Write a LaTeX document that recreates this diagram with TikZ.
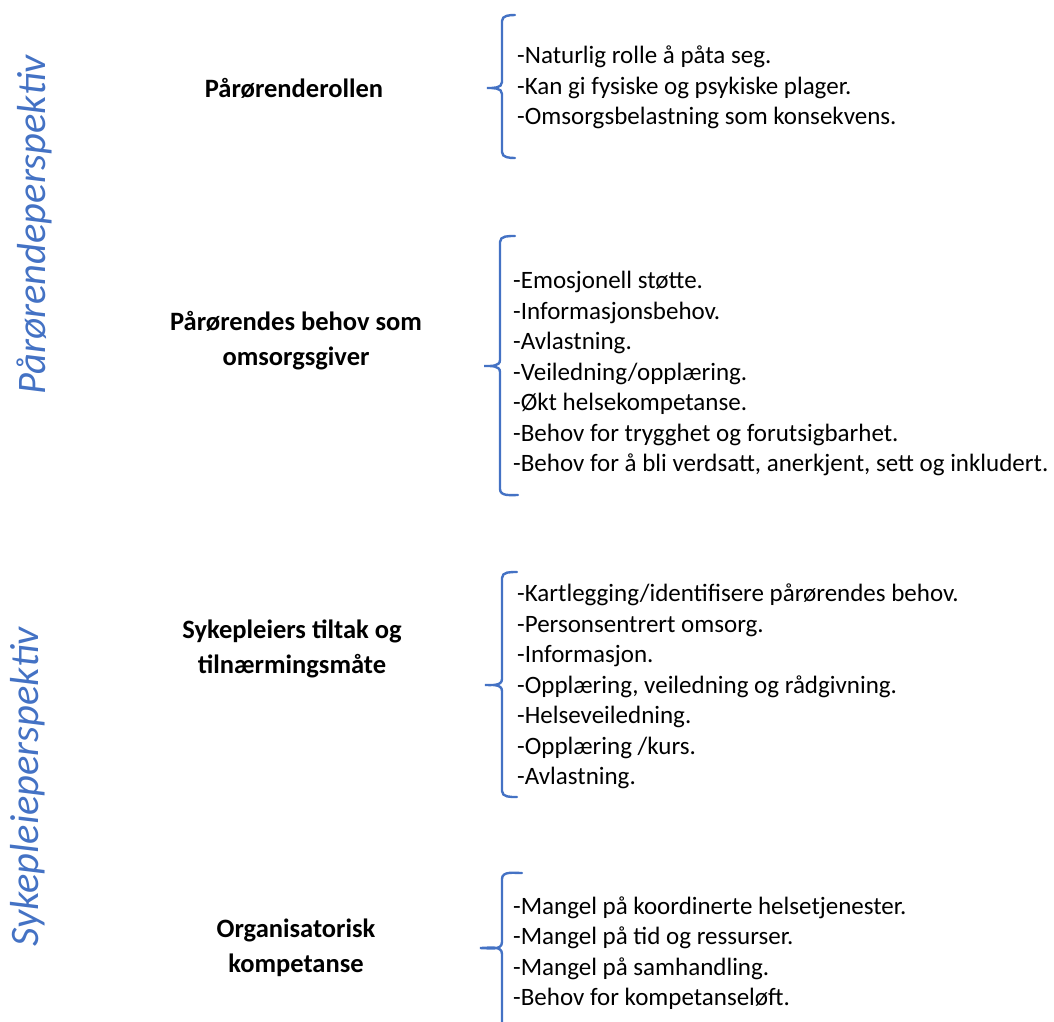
\documentclass[tikz,border=0pt]{standalone}
\usepackage{fontspec}
\setmainfont{Carlito}
\definecolor{BraceClr}{RGB}{68,114,196}

\begin{document}
\begin{tikzpicture}[x=1pt,y=-1pt,
  head/.style={font=\bfseries\fontsize{26.5}{35}\selectfont,align=center,inner sep=0},
  items/.style={font=\fontsize{25}{30.5}\selectfont,align=left,anchor=west,inner sep=0},
  side/.style={font=\itshape\fontsize{40.5}{40}\selectfont,text=BraceClr,rotate=90,anchor=base,inner sep=0},
  brace/.style={draw=BraceClr,line width=2.4pt,line cap=round}]
\useasboundingbox (0,0) rectangle (1054,1021);

% perspektiver
\node[side] (pp) at (45,225) {Pårørendeperspektiv};
\node[side] (sp) at (38,787) {Sykepleieperspektiv};

% overskrifter
\node[head] (rolle) at (294,88) {Pårørenderollen};
\node[head] (behov) at (296,341) {Pårørendes behov som\\omsorgsgiver};
\node[head] (tiltak) at (292,649) {Sykepleiers tiltak og\\tilnærmingsmåte};
\node[head] (org) at (296,948) {Organisatorisk\\kompetanse};

% lister
\node[items] (rolleL) at (517,87.5) {-Naturlig rolle å påta seg.\\-Kan gi fysiske og psykiske plager.\\-Omsorgsbelastning som konsekvens.};
\node[items] (behovL) at (513,373.5) {-Emosjonell støtte.\\-Informasjonsbehov.\\-Avlastning.\\-Veiledning/opplæring.\\-Økt helsekompetanse.\\-Behov for trygghet og forutsigbarhet.\\-Behov for å bli verdsatt, anerkjent, sett og inkludert.};
\node[items] (tiltakL) at (517,686.5) {-Kartlegging/identifisere pårørendes behov.\\-Personsentrert omsorg.\\-Informasjon.\\-Opplæring, veiledning og rådgivning.\\-Helseveiledning.\\-Opplæring /kurs.\\-Avlastning.};
\node[items] (orgL) at (513,953) {-Mangel på koordinerte helsetjenester.\\-Mangel på tid og ressurser.\\-Mangel på samhandling.\\-Behov for kompetanseløft.};

% klammer
\draw[brace] (515,15) to[out=180,in=90] (502,21) -- (502,82) to[out=-90,in=0] (487,88)
  to[out=0,in=90] (502,94) -- (502,152) to[out=-90,in=180] (515,158);
\draw[brace] (515,236) to[out=180,in=90] (500,242) -- (500,360) to[out=-90,in=0] (484,366)
  to[out=0,in=90] (500,372) -- (500,489) to[out=-90,in=180] (518,495);
\draw[brace] (517,572) to[out=180,in=90] (502,578) -- (502,679) to[out=-90,in=0] (485,685)
  to[out=0,in=90] (502,691) -- (502,791) to[out=-90,in=180] (517,797);
\draw[brace] (522,873) to[out=180,in=90] (502,879) -- (502,942) to[out=-90,in=0] (480,948)
  to[out=0,in=90] (502,954) -- (502,1030);
\end{tikzpicture}
\end{document}
